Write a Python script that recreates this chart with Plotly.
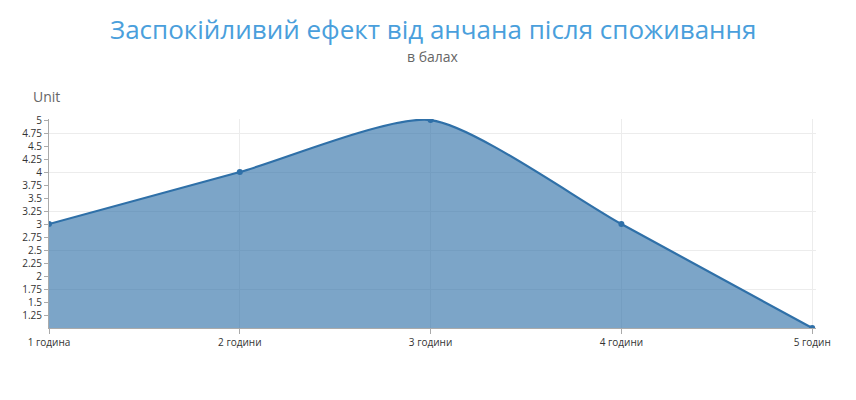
import plotly.graph_objects as go

hours = ["1 година", "2 години", "3 години", "4 години", "5 годин"]
scores = [3, 4, 5, 3, 1]
y_ticks = [1.25, 1.5, 1.75, 2, 2.25, 2.5, 2.75, 3, 3.25, 3.5, 3.75, 4, 4.25, 4.5, 4.75, 5]
grid_lines = [1.75, 2.5, 3.25, 4, 4.75]

LINE = "#2f70a8"
FILL = "rgba(47,112,168,0.63)"
FONT = "Open Sans, Noto Sans, sans-serif"

# plot area spans screen rows 119..328, so paper y = (328 - row) / 209
def row(py):
    return (328 - py) / 209

fig = go.Figure(go.Scatter(
    x=hours, y=scores,
    mode="lines+markers",
    line=dict(color=LINE, width=2.2, shape="spline", smoothing=0.65),
    marker=dict(color=LINE, size=6),
    fill="tozeroy", fillcolor=FILL,
    hoverinfo="x+y",
))

# page body adds an 8px offset, margins compensate for it
fig.update_layout(
    width=856, height=400,
    paper_bgcolor="white", plot_bgcolor="white",
    font=dict(family=FONT, color="#333"),
    margin=dict(l=41, r=48, t=111, b=80),
    showlegend=False,
    annotations=[
        dict(text="Заспокійливий ефект від анчана після споживання",
             xref="paper", yref="paper", x=0.5, y=row(29),
             xanchor="center", yanchor="middle", showarrow=False,
             font=dict(size=26, color="#4a9fdc")),
        dict(text="в балах",
             xref="paper", yref="paper", x=0.5, y=row(56),
             xanchor="center", yanchor="middle", showarrow=False,
             font=dict(size=14, color="#666")),
        dict(text="Unit", xref="paper", yref="paper", x=-0.023, y=row(97),
             xanchor="left", yanchor="middle", showarrow=False,
             font=dict(size=14, color="#666")),
    ],
)

fig.update_xaxes(
    showgrid=True, gridcolor="#ececec",
    showline=True, linecolor="#aaa",
    ticks="outside", ticklen=5, tickcolor="#aaa",
    tickfont=dict(size=10, color="#333"),
    range=[0, 4.02], zeroline=False, automargin=False,
)
fig.update_yaxes(
    range=[1, 5.02],
    tickvals=y_ticks, ticktext=[f"{v:g}" for v in y_ticks],
    showgrid=False,
    minor=dict(tickmode="array", tickvals=grid_lines, showgrid=True,
               gridcolor="#ececec", ticks=""),
    showline=True, linecolor="#aaa",
    ticks="outside", ticklen=4, tickcolor="#aaa",
    tickfont=dict(size=10, color="#333"),
    zeroline=False, automargin=False,
)

fig.write_html("out.html")
